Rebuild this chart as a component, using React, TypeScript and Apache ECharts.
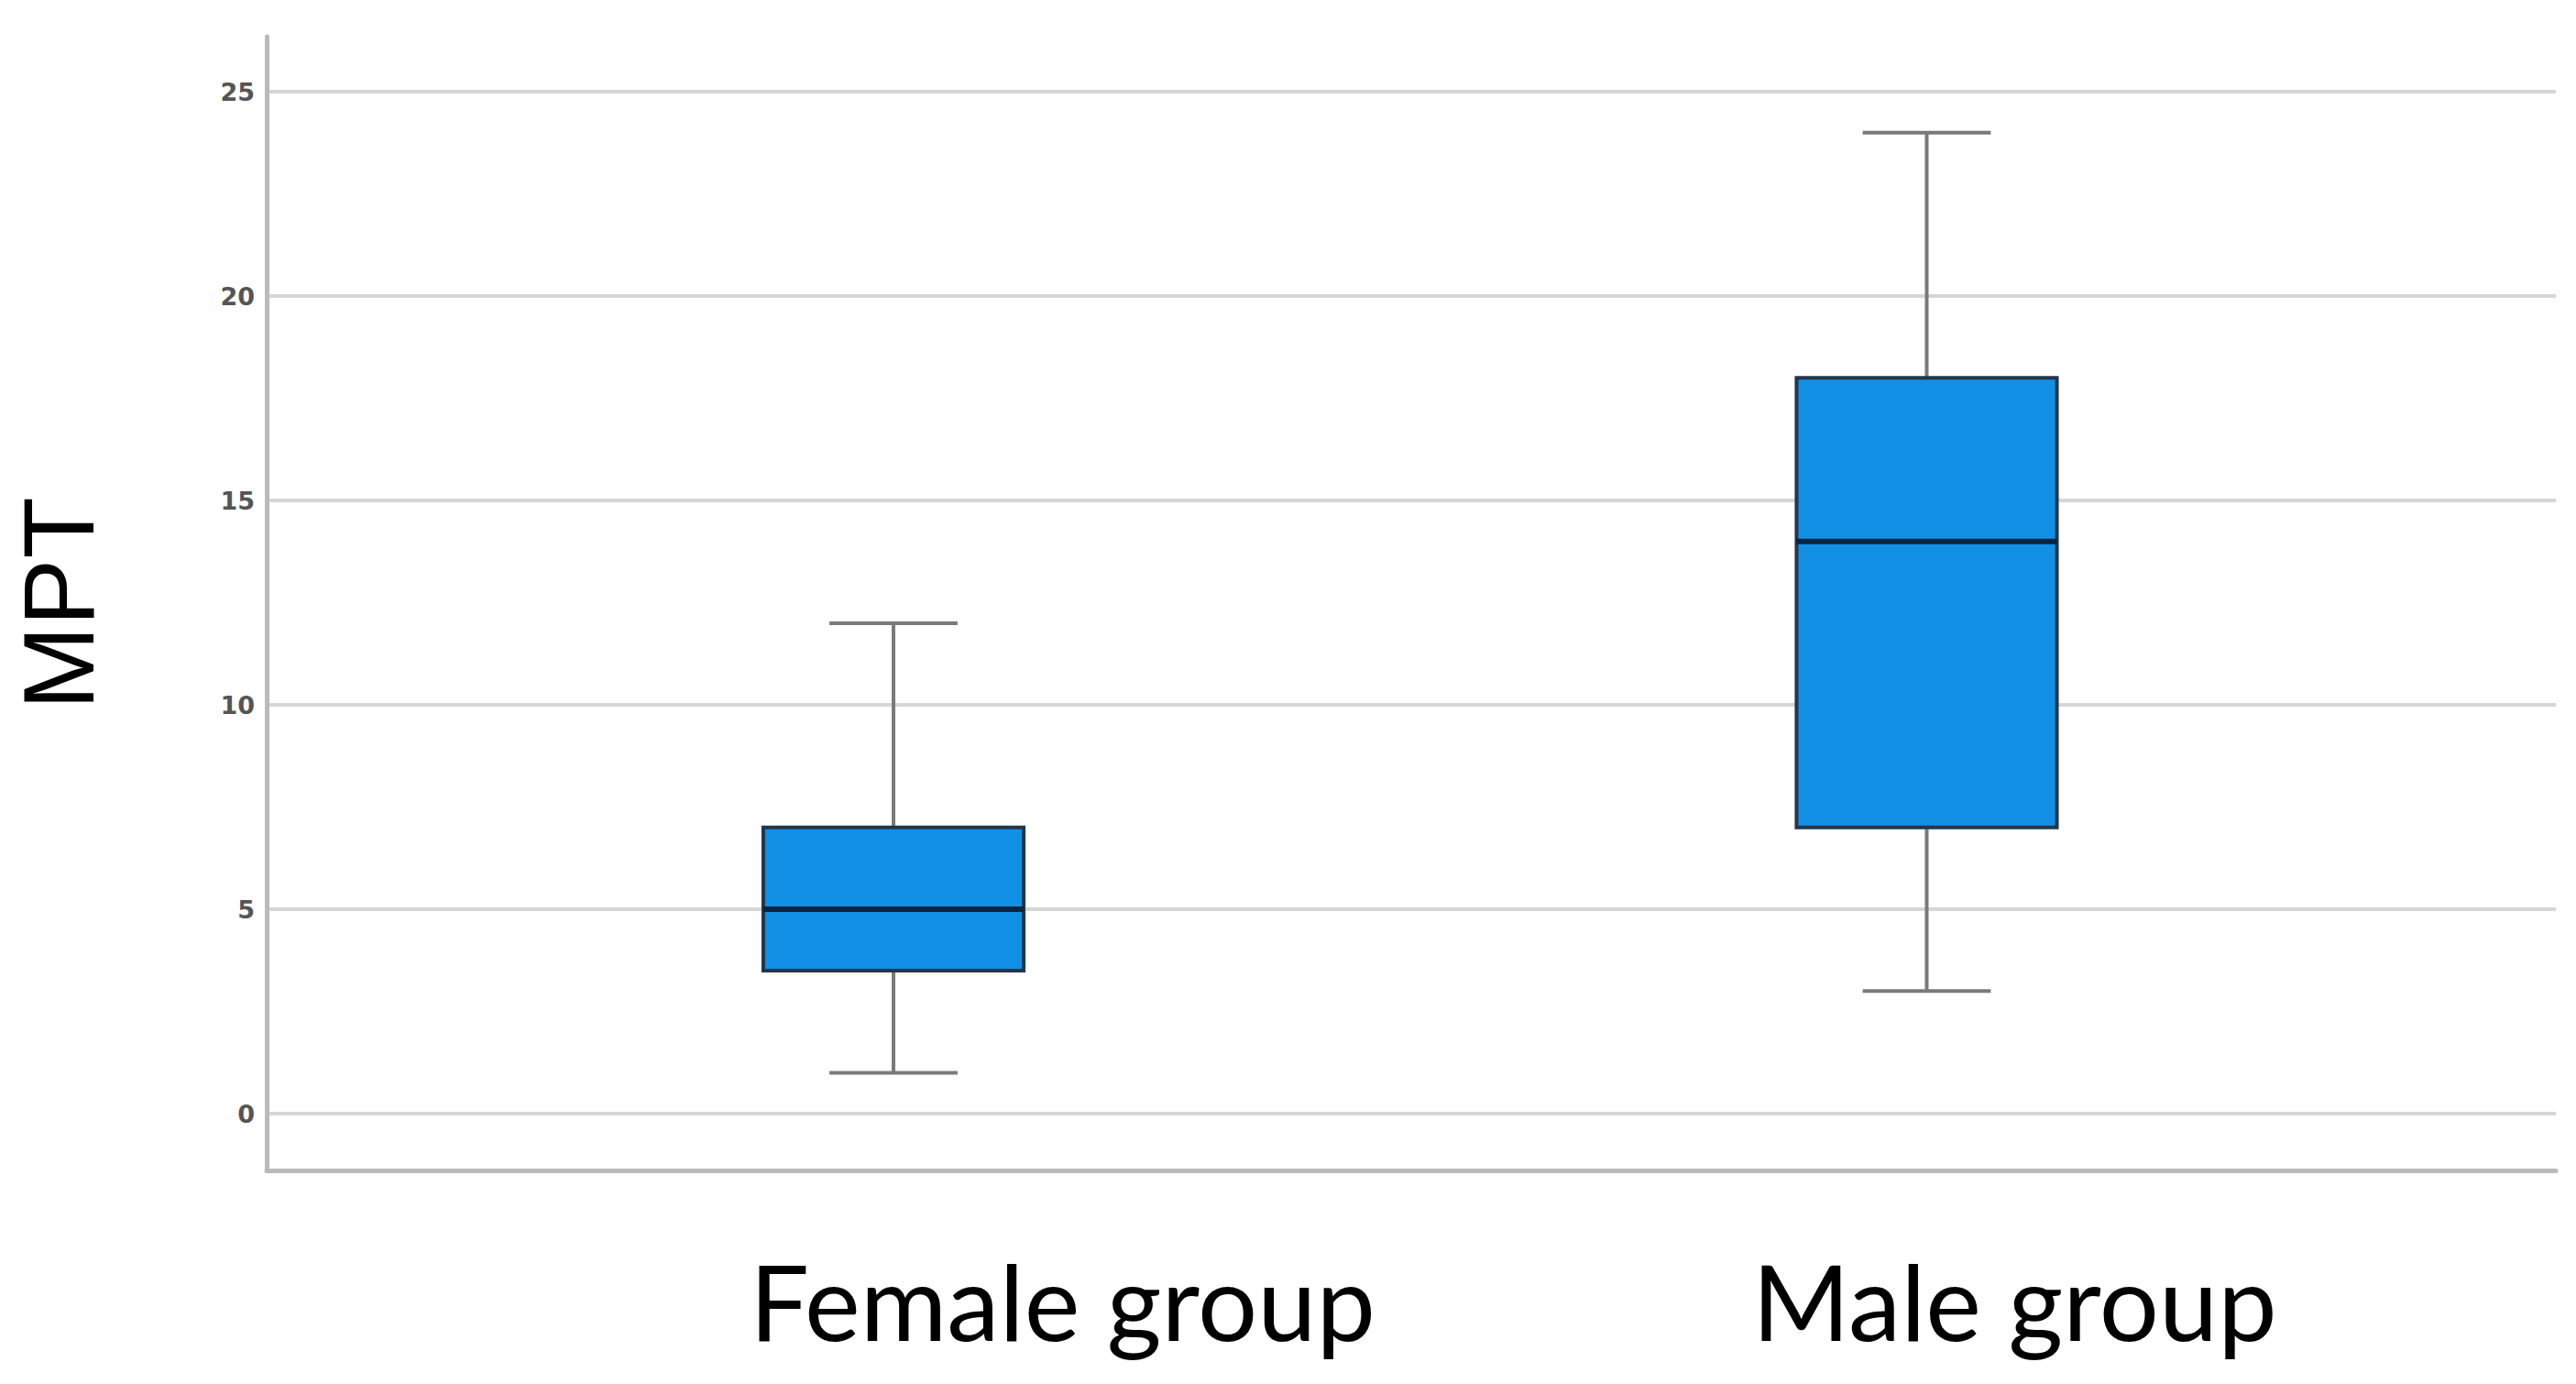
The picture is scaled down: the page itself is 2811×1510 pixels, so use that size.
import React, { useEffect, useRef } from "react";
import * as echarts from "echarts";

const categories = ["Female group", "Male group"];
const minValues = [1, 3];
const q1Values = [3.5, 7];
const medianValues = [5, 14];
const q3Values = [7, 18];
const maxValues = [12, 24];
const yTicks = [0, 5, 10, 15, 20, 25];
const yAxisTitle = "MPT";

export default function App() {
  const ref = useRef<HTMLDivElement>(null);

  useEffect(() => {
    if (!ref.current) return;
    const chart = echarts.init(ref.current, null, { renderer: "svg" });

    const data = categories.map((_, i) => [
      i,
      minValues[i],
      q1Values[i],
      medianValues[i],
      q3Values[i],
      maxValues[i],
    ]);

    const yMin = -1.39;
    const yMax = 26.35;

    const option: any = {
      animation: false,
      backgroundColor: "#ffffff",
      grid: [
        { left: 287, right: 22, top: 40, bottom: 233 },
        { left: 411.25, right: 144.75, top: 40, bottom: 233 },
      ],
      xAxis: [
        {
          gridIndex: 0,
          type: "value",
          min: 0,
          max: 1,
          axisLine: { show: true, onZero: false, lineStyle: { color: "#bababa", width: 5 } },
          axisTick: { show: false },
          axisLabel: { show: false },
          splitLine: { show: false },
        },
        {
          gridIndex: 1,
          type: "category",
          data: categories,
          axisLine: { show: false },
          axisTick: { show: false },
          axisLabel: { show: false },
          splitLine: { show: false },
        },
      ],
      yAxis: [
        {
          gridIndex: 0,
          type: "value",
          min: yMin,
          max: yMax,
          name: yAxisTitle,
          nameLocation: "middle",
          nameRotate: 90,
          nameGap: 173,
          nameTextStyle: {
            fontFamily: "Liberation Sans",
            fontSize: 110,
            color: "#000000",
          },
          axisLine: { show: true, onZero: false, lineStyle: { color: "#bababa", width: 5 } },
          axisTick: { show: false, customValues: yTicks },
          axisLabel: {
            customValues: yTicks,
            margin: 13,
            fontFamily: "DejaVu Sans",
            fontWeight: "bold",
            fontSize: 27,
            color: "#555555",
          },
          splitLine: { show: true, lineStyle: { color: "#d6d6d6", width: 4 } },
        },
        {
          gridIndex: 1,
          type: "value",
          min: yMin,
          max: yMax,
          show: false,
          splitLine: { show: false },
        },
      ],
      graphic: categories.map((name, i) => ({
        type: "text",
        x: i === 0 ? 818 : 1912,
        y: 1418,
        style: {
          text: name,
          fontFamily: "Lato",
          fontSize: 115,
          fill: "#000000",
          align: "left",
          verticalAlign: "middle",
        },
      })),
      series: [
        {
          type: "custom",
          xAxisIndex: 1,
          yAxisIndex: 1,
          encode: { x: 0, y: [1, 2, 3, 4, 5] },
          data,
          renderItem: (params: any, api: any) => {
            const idx = api.value(0);
            const cx = api.coord([idx, api.value(1)])[0];
            const yLo = api.coord([idx, api.value(1)])[1];
            const yQ1 = api.coord([idx, api.value(2)])[1];
            const yMed = api.coord([idx, api.value(3)])[1];
            const yQ3 = api.coord([idx, api.value(4)])[1];
            const yHi = api.coord([idx, api.value(5)])[1];
            const band = api.size([1, 0])[0];
            const bw = band * 0.252;
            const cw = band * 0.124;
            const whisker = { stroke: "#7a7a7a", lineWidth: 4 };
            return {
              type: "group",
              children: [
                { type: "line", shape: { x1: cx, y1: yHi, x2: cx, y2: yQ3 }, style: whisker },
                { type: "line", shape: { x1: cx, y1: yQ1, x2: cx, y2: yLo }, style: whisker },
                { type: "line", shape: { x1: cx - cw / 2, y1: yHi, x2: cx + cw / 2, y2: yHi }, style: whisker },
                { type: "line", shape: { x1: cx - cw / 2, y1: yLo, x2: cx + cw / 2, y2: yLo }, style: whisker },
                {
                  type: "rect",
                  shape: { x: cx - bw / 2, y: yQ3, width: bw, height: yQ1 - yQ3 },
                  style: { fill: "#1190e6", stroke: "#23364a", lineWidth: 4 },
                },
                {
                  type: "line",
                  shape: { x1: cx - bw / 2, y1: yMed, x2: cx + bw / 2, y2: yMed },
                  style: { stroke: "#0a2440", lineWidth: 6 },
                },
              ],
            };
          },
        },
      ],
    };

    chart.setOption(option);
    return () => chart.dispose();
  }, []);

  return (
    <div
      ref={ref}
      style={{ position: "fixed", left: 0, top: 0, width: 2811, height: 1510, background: "#fff" }}
    />
  );
}
